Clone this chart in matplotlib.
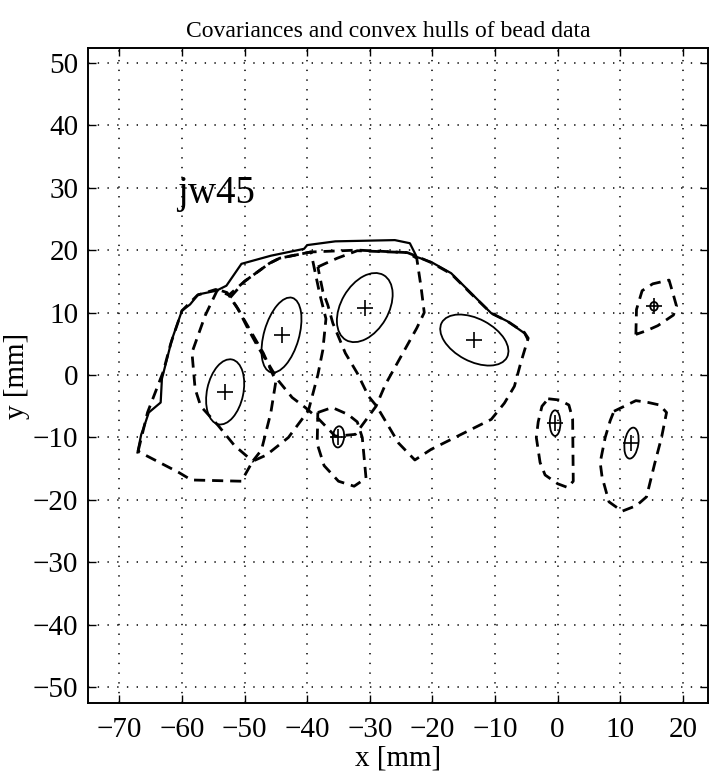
import matplotlib
matplotlib.use("Agg")
import matplotlib.pyplot as plt
from matplotlib.patches import Ellipse
import numpy as np

plt.rcParams['font.family'] = ['Liberation Serif', 'DejaVu Serif']
plt.rcParams['lines.scale_dashes'] = False

# solid outline of the bead region
outline_x = [-67.1, -66.5, -66.0, -65.3, -63.4, -63.2, -61.6, -60.0, -58.7, -57.4, -54.5,
             -52.9, -50.5, -45.8, -40.5, -40.0, -35.5, -26.0, -23.6, -22.5, -20.2, -17.0,
             -13.8, -10.6, -8.0, -5.3, -4.9]
outline_y = [-12.4, -9.5, -8.1, -6.0, -4.4, -0.6, 5.7, 10.3, 11.3, 12.9, 13.5,
             14.3, 17.8, 19.1, 20.2, 20.8, 21.4, 21.6, 21.1, 18.9, 18.1, 16.3,
             13.1, 9.9, 8.6, 6.7, 5.9]

# dashed convex hulls (closed)
hulls = [
    # large left hull
    [(-67.0, -12.2), (-65.5, -6.0), (-63.0, 0.5), (-61.8, 5.0), (-60.0, 10.3), (-57.5, 12.8),
     (-54.6, 13.7), (-52.5, 12.8), (-50.0, 15.0), (-46.0, 17.9), (-44.4, 18.7), (-39.4, 19.7),
     (-38.8, 16.8), (-38.0, 13.0), (-37.0, 9.0), (-37.5, 4.0), (-38.3, 0.0), (-39.8, -5.7),
     (-43.0, -10.0), (-46.5, -12.8), (-48.7, -13.8), (-50.5, -17.0), (-58.5, -16.8),
     (-60.5, -15.6), (-65.5, -13.0)],
    # inner hull round the first ellipse
    [(-54.3, 13.7), (-56.3, 9.5), (-58.4, 3.6), (-57.9, -2.2), (-57.0, -5.0), (-54.2, -8.1),
     (-51.6, -11.3), (-48.7, -13.8), (-47.3, -12.0), (-45.8, -6.0), (-45.0, -1.0),
     (-47.0, 3.5), (-51.3, 11.0), (-52.8, 13.2)],
    # hull of the upper middle ellipse
    [(-52.3, 12.4), (-50.0, 15.0), (-46.0, 17.9), (-44.4, 18.7), (-39.4, 19.7), (-32.0, 20.0),
     (-24.0, 19.6), (-22.5, 18.7), (-21.8, 14.0), (-21.3, 10.0), (-22.5, 7.5), (-25.0, 3.0),
     (-27.5, -1.5), (-29.0, -5.0), (-32.3, -9.5), (-35.5, -9.8), (-38.2, -7.0), (-40.3, -5.2),
     (-42.4, -3.6), (-44.6, -0.9), (-46.2, 1.8), (-47.8, 4.4), (-49.5, 7.5), (-51.0, 10.5)],
    # hull of the right middle ellipse
    [(-38.3, 17.3), (-37.0, 17.9), (-35.2, 18.7), (-32.0, 19.9), (-24.0, 19.6), (-22.5, 19.0),
     (-20.2, 18.0), (-17.0, 16.2), (-13.8, 13.0), (-10.6, 9.9), (-8.0, 8.6), (-5.3, 6.8),
     (-4.7, 5.9), (-5.9, 1.9), (-6.9, -1.8), (-8.5, -4.5), (-10.6, -7.1), (-13.8, -8.7),
     (-17.0, -10.3), (-20.2, -11.9), (-22.8, -13.6), (-25.4, -10.9), (-27.0, -8.2),
     (-28.9, -5.0), (-30.2, -3.4), (-32.0, 0.3), (-33.9, 3.5), (-35.9, 8.3), (-36.7, 11.2),
     (-37.5, 13.4)],
    # small hull near (-34, -10)
    [(-38.3, -6.0), (-36.0, -5.2), (-33.5, -6.3), (-32.0, -7.5), (-31.2, -10.0), (-30.6, -16.5),
     (-32.5, -17.8), (-35.0, -17.0), (-37.3, -14.5), (-38.4, -11.0)],
    # hull near (0, -8)
    [(-1.5, -3.8), (0.3, -4.0), (1.8, -4.8), (2.4, -7.0), (2.5, -17.0), (1.6, -18.0),
     (0.0, -17.4), (-2.0, -16.0), (-2.8, -14.0), (-3.4, -10.0), (-3.1, -7.5), (-2.5, -5.0)],
    # hull near (12, -11)
    [(9.0, -5.8), (12.5, -4.1), (14.5, -4.4), (16.3, -4.8), (17.4, -6.0), (16.6, -10.0),
     (15.5, -14.2), (14.2, -19.5), (12.6, -20.9), (10.3, -21.8), (8.2, -20.3), (7.1, -16.3),
     (6.8, -14.0), (7.6, -10.0), (8.4, -7.3)],
    # hull near (16, 11)
    [(12.5, 6.5), (12.6, 10.5), (13.5, 13.5), (15.2, 14.6), (17.8, 15.2), (18.5, 12.8),
     (19.0, 11.0), (18.5, 9.6), (16.0, 7.9), (14.2, 7.1)],
]

# covariance ellipses: centre, semi axes, angle (deg)
ell_x = [-53.1, -44.1, -30.8, -13.3, -35.0, -0.4, 11.8, 15.4]
ell_y = [-2.7, 6.4, 10.8, 5.6, -9.9, -7.7, -10.9, 11.0]
ell_a = [5.3, 6.2, 6.0, 5.9, 1.7, 2.05, 2.5, 0.7]
ell_b = [2.9, 2.8, 3.8, 3.4, 0.9, 0.85, 1.1, 0.6]
ell_ang = [78, 74, 60, -28, 85, 90, 82, 90]

fig = plt.figure(figsize=(7.1, 7.72), dpi=100)
ax = fig.add_axes([0.124, 0.0894, 0.873, 0.848])

ax.plot(outline_x, outline_y, color='k', lw=1.6, solid_joinstyle='round')

for h in hulls:
    pts = np.array(h + [h[0]])
    ax.plot(pts[:, 0], pts[:, 1], color='k', lw=2.0, dashes=(8, 5),
            dash_capstyle='butt')

for cx, cy, a, b, ang in zip(ell_x, ell_y, ell_a, ell_b, ell_ang):
    ax.add_patch(Ellipse((cx, cy), 2 * a, 2 * b, angle=ang, fill=False,
                         edgecolor='k', lw=1.3))
ax.plot(ell_x, ell_y, '+', color='k', ms=11, mew=1.2)

ax.text(-60.8, 27.5, 'jw45', fontsize=28)

ax.set_xlim(-75, 24)
ax.set_ylim(-52.5, 52.3)
ax.set_xticks(np.arange(-70, 21, 10))
ax.set_yticks(np.arange(-50, 51, 10))
ax.set_xticklabels(['\u2212%d' % -v if v < 0 else '%d' % v for v in range(-70, 21, 10)])
ax.set_yticklabels(['\u2212%d' % -v if v < 0 else '%d' % v for v in range(-50, 51, 10)])
ax.tick_params(direction='in', length=6, width=1.0, labelsize=21,
               top=True, right=True, pad=7)
ax.tick_params(axis='x', pad=10)
ax.grid(True, color='k', linestyle=(0, (1, 6)), linewidth=1.1)
for s in ax.spines.values():
    s.set_linewidth(1.4)

ax.set_title('Covariances and convex hulls of bead data', fontsize=17, pad=8, x=0.485)
ax.set_xlabel('x [mm]', fontsize=21, labelpad=2)
ax.set_ylabel('y [mm]', fontsize=21, labelpad=2)

fig.savefig('out.png', dpi=100)
